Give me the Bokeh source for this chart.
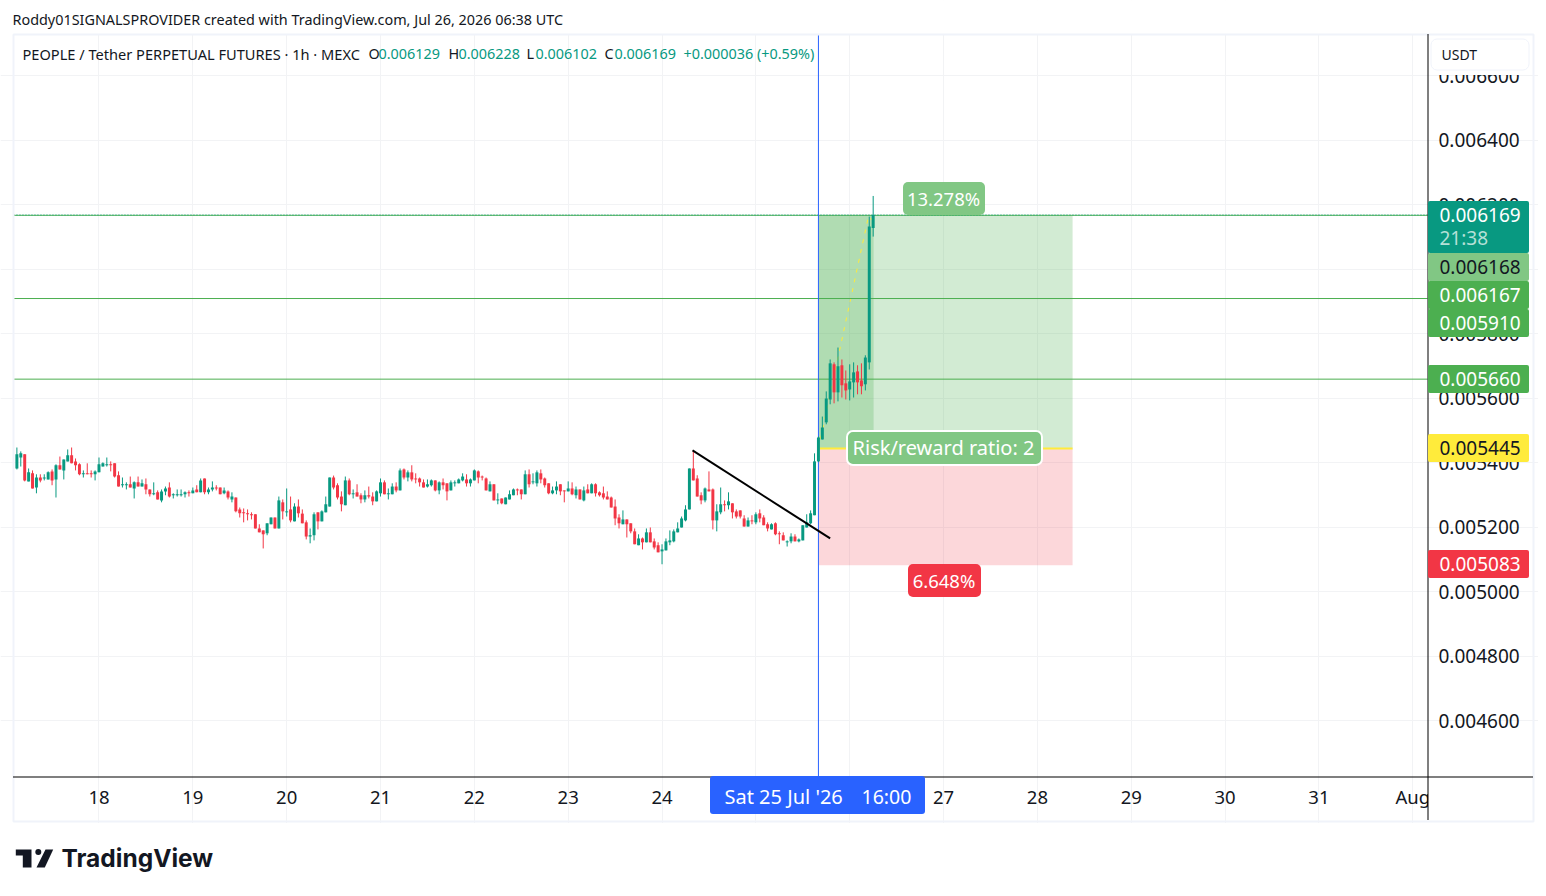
import numpy as np
from bokeh.embed import file_html
from bokeh.models import BoxAnnotation, FixedTicker, Grid, Label, LinearAxis, PolyAnnotation
from bokeh.plotting import figure
from bokeh.resources import INLINE

# hourly candles, values in millionths of USDT; first candle is 17 Jul 03:00
opens = [
 5383,5417,5427,5343,5368,5324,5355,5352,5349,5374,5349,5393,5377,5405,5424,5405,5396,5365,5368,5368,5365,
 5371,5389,5393,5396,5399,5362,5331,5331,5334,5321,5340,5327,5334,5318,5303,5309,5284,5312,5324,5300,5300,5300,5303,5309,
 5306,5318,5309,5352,5309,5318,5324,5324,5306,5312,5287,5293,5256,5247,5244,5241,5241,5197,5191,5182,5210,5231,5197,5278,
 5247,5256,5219,5265,5243,5216,5172,5176,5247,5219,5247,5265,5355,5331,5296,5269,5346,5303,5309,5300,5287,5300,5296,5281,
 5306,5340,5303,5303,5327,5315,5380,5355,5371,5352,5352,5340,5327,5331,5346,5315,5340,5337,5315,5337,5337,5346,5349,5337,
 5346,5374,5358,5352,5312,5334,5284,5290,5272,5287,5300,5318,5318,5303,5365,5340,5337,5368,5352,5337,5306,5315,5334,5315,
 5312,5321,5300,5318,5284,5318,5306,5334,5309,5306,5296,5293,5265,5231,5210,5225,5213,5188,5145,5166,5154,5185,5157,5145,
 5126,5129,5154,5157,5185,5200,5222,5256,5383,5352,5300,5284,5318,5318,5222,5247,5272,5269,5275,5250,5253,5228,5203,5222,
 5216,5244,5231,5210,5194,5213,5182,5176,5154,5157,5172,5157,5160,5200,5213,5238,
 5405,5473,5526,5597,5706,5619,5703,5647,5628,5650,5684,5656,5644,5712,6129]
closes = [
 5427,5430,5346,5371,5321,5355,5346,5355,5371,5346,5393,5380,5411,5424,5399,5393,5365,5368,5365,5365,5374,
 5396,5399,5396,5393,5358,5327,5334,5334,5324,5340,5327,5337,5318,5303,5306,5287,5312,5321,5296,5303,5303,5303,5309,5306,
 5315,5309,5346,5309,5318,5324,5321,5303,5315,5293,5296,5250,5244,5244,5241,5238,5197,5185,5179,5213,5231,5197,5284,5250,
 5250,5222,5265,5244,5213,5172,5176,5241,5219,5250,5272,5355,5324,5293,5272,5346,5303,5306,5296,5287,5300,5296,5281,5312,
 5340,5303,5306,5327,5315,5377,5355,5371,5349,5349,5340,5324,5334,5346,5315,5340,5331,5312,5340,5340,5349,5358,5337,5349,
 5377,5355,5355,5315,5334,5284,5287,5275,5293,5303,5318,5315,5303,5365,5334,5343,5371,5349,5331,5306,5315,5327,5312,5312,
 5321,5303,5318,5287,5315,5306,5334,5306,5300,5293,5287,5262,5228,5213,5225,5210,5188,5148,5166,5154,5185,5154,5138,5123,
 5132,5157,5160,5188,5197,5228,5256,5383,5346,5296,5284,5321,5312,5222,5250,5272,5269,5281,5247,5234,5234,5203,5222,5219,
 5241,5228,5207,5197,5210,5179,5179,5160,5157,5172,5157,5163,5207,5216,5244,5405,
 5479,5510,5600,5709,5619,5700,5641,5625,5653,5681,5650,5638,5727,6133,6169]
highs = [
 5448,5436,5427,5383,5377,5365,5365,5365,5374,5380,5396,5420,5411,5442,5448,5414,5399,5377,5399,5377,5377,
 5417,5402,5417,5405,5399,5374,5355,5340,5358,5343,5358,5349,5352,5318,5340,5315,5318,5327,5340,5306,5318,5318,5312,5315,
 5324,5331,5352,5352,5324,5343,5331,5324,5324,5315,5309,5293,5262,5259,5256,5247,5241,5210,5191,5213,5231,5231,5296,5287,
 5321,5296,5275,5287,5256,5222,5197,5247,5247,5253,5296,5355,5361,5337,5312,5358,5352,5318,5334,5306,5315,5327,5309,5315,
 5352,5346,5321,5337,5340,5383,5383,5377,5393,5368,5355,5349,5349,5349,5346,5343,5352,5337,5346,5346,5352,5368,5365,5352,
 5380,5377,5361,5355,5343,5334,5306,5290,5293,5315,5321,5321,5318,5377,5380,5368,5377,5380,5355,5337,5327,5343,5334,5315,
 5343,5340,5327,5318,5327,5334,5337,5337,5312,5327,5312,5296,5287,5241,5253,5225,5213,5197,5179,5169,5197,5200,5166,5154,
 5148,5166,5191,5194,5216,5234,5269,5383,5439,5362,5309,5324,5374,5321,5272,5324,5284,5309,5275,5256,5253,5238,5231,5238,
 5247,5256,5238,5216,5213,5216,5188,5185,5160,5182,5179,5166,5207,5241,5253,5430,
 5482,5544,5622,5721,5712,5758,5721,5687,5706,5712,5703,5709,5734,6164,6228]
lows = [
 5380,5389,5343,5343,5321,5306,5340,5346,5349,5331,5293,5380,5349,5405,5399,5377,5362,5355,5365,5355,5346,
 5371,5389,5389,5374,5355,5327,5324,5318,5324,5290,5327,5327,5303,5296,5300,5287,5278,5300,5293,5290,5296,5296,5293,5296,
 5306,5309,5309,5303,5303,5312,5315,5303,5303,5287,5278,5247,5231,5216,5222,5225,5197,5185,5135,5176,5210,5197,5197,5225,
 5234,5216,5219,5231,5213,5163,5151,5160,5194,5219,5247,5265,5318,5287,5250,5269,5300,5290,5296,5275,5278,5290,5269,5281,
 5296,5303,5287,5303,5309,5315,5349,5343,5343,5337,5327,5324,5324,5327,5312,5303,5318,5284,5315,5327,5337,5343,5327,5327,
 5346,5337,5346,5315,5312,5284,5272,5272,5272,5287,5300,5300,5287,5303,5324,5334,5327,5337,5324,5303,5303,5303,5300,5278,
 5312,5300,5290,5287,5281,5306,5306,5296,5296,5287,5287,5262,5207,5197,5210,5169,5182,5148,5145,5132,5154,5154,5132,5123,
 5086,5129,5145,5154,5185,5200,5219,5256,5346,5296,5272,5278,5312,5194,5188,5241,5250,5256,5228,5228,5228,5203,5203,5210,
 5210,5216,5207,5188,5194,5176,5148,5160,5141,5151,5157,5154,5160,5200,5210,5238,
 5403,5473,5520,5582,5585,5591,5603,5597,5594,5603,5613,5613,5625,5690,6102]

first_hour = -21
price_ticks = [4600, 4800, 5000, 5200, 5400, 5600, 5800, 6000, 6200, 6400, 6600]
day_ticks = [24 * i for i in range(15)]
day_labels = ["18","19","20","21","22","23","24","25","26","27","28","29","30","31","Aug"]

tp_level, entry_level, stop_level = 6168, 5445, 5083
level_lines = [6168, 5910, 5660]
last_close = 6169
pos_start, pos_price_end, pos_end = 184, 198.1, 249
trend_hours = [151.8, 187]
trend_prices = [5439, 5166]
path_hours = [184, 196.8, 198]
path_prices = [5445, 6165, 6150]

FONT = "Noto Sans"
INK = "#131722"
UP, DOWN = "#089981", "#F23645"
GREEN, LIGHTGREEN = "#4CAF50", "#81C784"
GRID = "#F2F3F5"

# plot area of the chart in data units
HOUR_MIN, HOUR_MAX = -21.87, 339.77
PRICE_MIN, PRICE_MAX = 4427.9, 6728.7

# the frame fills the canvas so that tags and headers outside the plot area are not clipped
p = figure(width=1538, height=888, output_backend="svg", toolbar_location=None,
           x_range=(-25.19, 368.16), y_range=(4080.6, 6834.1),
           x_axis_type=None, y_axis_type=None,
           min_border_left=0, min_border_right=0, min_border_top=0, min_border_bottom=0,
           background_fill_color="white", border_fill_color="white", outline_line_color=None)

xaxis = LinearAxis(ticker=FixedTicker(ticks=day_ticks), fixed_location=PRICE_MIN,
                   major_label_overrides={t: s for t, s in zip(day_ticks, day_labels)},
                   major_tick_line_color=None, minor_tick_line_color=None, axis_line_color=None,
                   major_tick_in=0, major_tick_out=0,
                   major_label_standoff=8, major_label_text_font=FONT,
                   major_label_text_font_size="18.5px", major_label_text_color=INK)
p.add_layout(xaxis, "below")
yaxis = LinearAxis(ticker=FixedTicker(ticks=price_ticks), fixed_location=HOUR_MAX,
                   major_label_overrides={t: f"{t/1e6:.6f}" for t in price_ticks},
                   major_tick_line_color=None, minor_tick_line_color=None, axis_line_color=None,
                   major_tick_in=0, major_tick_out=0,
                   major_label_standoff=11, major_label_text_font=FONT,
                   major_label_text_font_size="19px", major_label_text_color=INK)
p.add_layout(yaxis, "right")
p.add_layout(Grid(dimension=0, axis=xaxis, grid_line_color=GRID, ticker=FixedTicker(ticks=day_ticks),
                  bounds=(PRICE_MIN, PRICE_MAX)))
p.add_layout(Grid(dimension=1, axis=yaxis, grid_line_color=GRID, ticker=FixedTicker(ticks=price_ticks),
                  bounds=(HOUR_MIN, HOUR_MAX)))

# long position tool
p.quad(left=pos_start, right=pos_end, bottom=entry_level, top=tp_level, fill_color=GREEN, fill_alpha=0.25, line_color=None)
p.quad(left=pos_start, right=pos_price_end, bottom=entry_level, top=tp_level, fill_color=GREEN, fill_alpha=0.25, line_color=None)
p.quad(left=pos_start, right=pos_end, bottom=stop_level, top=entry_level, fill_color=DOWN, fill_alpha=0.2, line_color=None)
p.segment(pos_start, entry_level, pos_end, entry_level, line_color="#FFEB3B", line_width=2)
p.line(path_hours, path_prices, line_color="#FFEB3B", line_width=1, line_dash="4 6")

for lv in level_lines:
    p.segment(HOUR_MIN, lv, HOUR_MAX, lv, line_color=GREEN, line_width=1)
p.segment(HOUR_MIN, last_close, HOUR_MAX, last_close, line_color=UP, line_width=1, line_dash="1 2")
p.segment(pos_start, PRICE_MIN, pos_start, PRICE_MAX, line_color="#2962FF", line_width=1)

hours = first_hour + np.arange(len(opens))
o, c, h, l = map(np.array, (opens, closes, highs, lows))
colors = [UP if a >= b else DOWN for a, b in zip(c, o)]
p.segment(hours, h, hours, l, line_color=colors, line_width=1)
p.vbar(x=hours, width=0.76, bottom=np.minimum(o, c), top=np.maximum(o, c), fill_color=colors, line_color=None)
p.line(trend_hours, trend_prices, line_color="#000000", line_width=2)


def box(x0, y0, x1, y1, fill=None, line=None, lw=1, radius=0):
    """Rectangle given in page pixels."""
    b = BoxAnnotation(left=x0 - 0.5, right=x1 - 0.5, top=y0 - 0.5, bottom=y1 - 0.5,
                      left_units="canvas", right_units="canvas", top_units="canvas", bottom_units="canvas",
                      fill_color=fill, fill_alpha=1 if fill else 0,
                      line_color=line, line_width=lw, line_alpha=1 if line else 0,
                      border_radius=radius, editable=False)
    p.add_layout(b)


def lab(x, y, text, size=18.5, color=INK, align="left", style="normal", font=FONT):
    """Text anchored in page pixels."""
    p.add_layout(Label(x=x - 1, y=y - 1, x_units="canvas", y_units="canvas", text=text,
                       text_font=font, text_font_size=f"{size}px", text_color=color,
                       text_align=align, text_baseline="middle", text_font_style=style))


# position labels
box(903, 182, 985, 215, fill=LIGHTGREEN, radius=5)
lab(944, 199, "13.278%", 18.5, "white", "center")
box(908, 564, 981, 597, fill=DOWN, radius=5)
lab(944.5, 581, "6.648%", 18.5, "white", "center")
box(847, 431, 1042, 465, fill=LIGHTGREEN, line="white", lw=2, radius=6)
lab(944, 448, "Risk/reward ratio: 2", 20, "white", "center")

# page outside the chart stays clear of grid lines
box(0, 823, 1539, 889, fill="white")
box(0, 0, 1539, 34, fill="white")

# frame lines of the chart
box(1428, 777, 1532, 820, fill="white")
box(13.5, 34.5, 1533.5, 821.5, line="#F0F3FA", lw=2)
box(13, 776.5, 1533, 777.5, fill="#000000")
box(1427.5, 34, 1428.5, 820, fill="#000000")

# price tags
box(1429, 36, 1532, 75, fill="white")
box(1431, 39, 1529, 70, fill="white", line="#F0F3FA", lw=1, radius=6)
lab(1442, 55, "USDT", 14)
box(1428, 201, 1529, 253, fill=UP, radius=2)
lab(1440, 215, "0.006169", 19, "white")
lab(1440, 238, "21:38", 19, "#B5E0D7")
box(1428, 253, 1529, 281, fill=LIGHTGREEN, radius=2)
lab(1440, 267, "0.006168", 19, INK)
box(1428, 281, 1529, 309, fill=GREEN, radius=2)
lab(1440, 295, "0.006167", 19, "white")
box(1428, 309, 1529, 337, fill=GREEN, radius=2)
lab(1440, 323, "0.005910", 19, "white")
box(1428, 365, 1529, 393, fill=GREEN, radius=2)
lab(1440, 379, "0.005660", 19, "white")
box(1428, 434, 1529, 462, fill="#FFEB3B", radius=2)
lab(1440, 448, "0.005445", 19, INK)
box(1428, 550, 1529, 578, fill=DOWN, radius=2)
lab(1440, 564, "0.005083", 19, "white")

# crosshair time pill
box(710, 776, 925, 814, fill="#2962FF", radius=3)
lab(725, 797, "Sat 25 Jul '26", 20, "white")
lab(862, 797, "16:00", 19.5, "white")

# headers
lab(13, 19.5, "Roddy01SIGNALSPROVIDER created with TradingView.com, Jul 26, 2026 06:38 UTC", 14.4)
lab(23, 54, "PEOPLE / Tether PERPETUAL FUTURES · 1h · MEXC", 14.6)
for xx, t in [(369, "O"), (449, "H"), (527, "L"), (605, "C")]:
    lab(xx, 54, t, 14.4)
for xx, t in [(379, "0.006129"), (459, "0.006228"), (536, "0.006102"), (615, "0.006169"), (684, "+0.000036 (+0.59%)")]:
    lab(xx, 54, t, 14.4, UP)


# logo
def poly(xs, ys):
    p.add_layout(PolyAnnotation(xs=list(xs), ys=list(ys), xs_units="canvas", ys_units="canvas",
                                fill_color=INK, fill_alpha=1, line_color=None, editable=False))


poly([15.3, 31, 31, 22.3, 22.3, 15.3], [849, 849, 867, 867, 855, 855])
box(35.3, 849, 41.3, 855, fill=INK, radius=3)
poly([45, 52.7, 44.3, 36], [849, 849, 867, 867])
lab(62, 858.5, "TradingView", 24.5, INK, style="bold", font="Inter")

open("out.html", "w").write(file_html(p, INLINE))
